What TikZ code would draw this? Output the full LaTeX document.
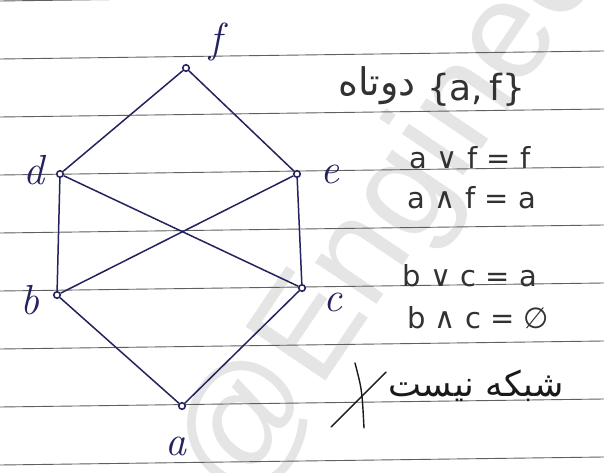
\documentclass[tikz,border=0pt]{standalone}
\usepackage{fontspec}
\TeXXeTstate=1
\newfontfamily\persianfont[Script=Arabic]{DejaVu Sans}
\newfontfamily\dejavu{DejaVu Sans}
\newfontfamily\wmfont{Liberation Sans}
\definecolor{ink}{RGB}{35,35,95}
\definecolor{pencil}{RGB}{50,50,50}
\definecolor{paperline}{RGB}{95,95,95}
\tikzset{
  vtx/.style={circle, draw=ink, line width=1.6pt, fill=white, inner sep=0pt, minimum size=6.5pt},
  edge/.style={draw=ink, line width=1.5pt},
  lbl/.style={text=ink, inner sep=0pt, font=\fontsize{42}{42}\selectfont\itshape},
  note/.style={text=pencil, inner sep=0pt, font=\dejavu\fontsize{29}{29}\selectfont},
  ruling/.style={draw=paperline, line width=0.9pt}
}
\begin{document}
\begin{tikzpicture}[x=1pt, y=-1pt]
\useasboundingbox (0,0) rectangle (604,473);
\fill[white] (0,0) rectangle (604,473);
\begin{scope}
\clip (0,0) rectangle (604,473);
% watermark
\node[anchor=base west, rotate=56, inner sep=0pt, text=black!10, font=\wmfont\fontsize{140}{140}\selectfont] (wm) at (240,508) {@Engineer};
% ruled paper lines
\foreach \i in {0,...,8} {
  \draw[ruling] (0,{1+58*\i}) -- (604,{1+58*\i-8});
}
\end{scope}
% vertices
\node[vtx] (f) at (186,68) {};
\node[vtx] (d) at (60,174) {};
\node[vtx] (e) at (297,174) {};
\node[vtx] (b) at (57,295) {};
\node[vtx] (c) at (302,288) {};
\node[vtx] (a) at (182,406) {};
% edges
\draw[edge] (f) -- (d);
\draw[edge] (f) -- (e);
\draw[edge] (d) -- (b);
\draw[edge] (d) -- (c);
\draw[edge] (e) -- (b);
\draw[edge] (e) -- (c);
\draw[edge] (b) -- (a);
\draw[edge] (c) -- (a);
% labels
\node[lbl] (lf) at (216,42) {f};
\node[lbl] (ld) at (34,170) {d};
\node[lbl] (le) at (330,174) {e};
\node[lbl] (lb) at (30,300) {b};
\node[lbl] (lc) at (333,302) {c};
\node[lbl] (la) at (176,446) {a};
% notes
\node[text=pencil, inner sep=0pt, font=\persianfont\fontsize{38}{38}\selectfont] (pw) at (377,86) {\beginR دوتاه\endR};
\node[note, font=\dejavu\fontsize{36}{36}\selectfont] (pair) at (476,90) {\{a,\,f\}};
\node[note] (n1) at (470,158) {a ∨ f = f};
\node[note] (n2) at (472,198) {a ∧ f = a};
\node[note] (n3) at (470,276) {b ∨ c = a};
\node[note] (n4) at (478,318) {b ∧ c = ∅};
\node[text=black!90, inner sep=0pt, font=\persianfont\fontsize{35}{35}\selectfont] (nl) at (476,386) {\beginR شبکه نیست\endR};
\coordinate (x1a) at (355,363);
\coordinate (x1b) at (364,428);
\coordinate (x2a) at (386,372);
\coordinate (x2b) at (331,427);
\draw[black!90, line width=1.4pt, line cap=round] (x1a) .. controls (362,390) .. (x1b);
\draw[black!90, line width=1.4pt, line cap=round] (x2a) -- (x2b);
\end{tikzpicture}
\end{document}
